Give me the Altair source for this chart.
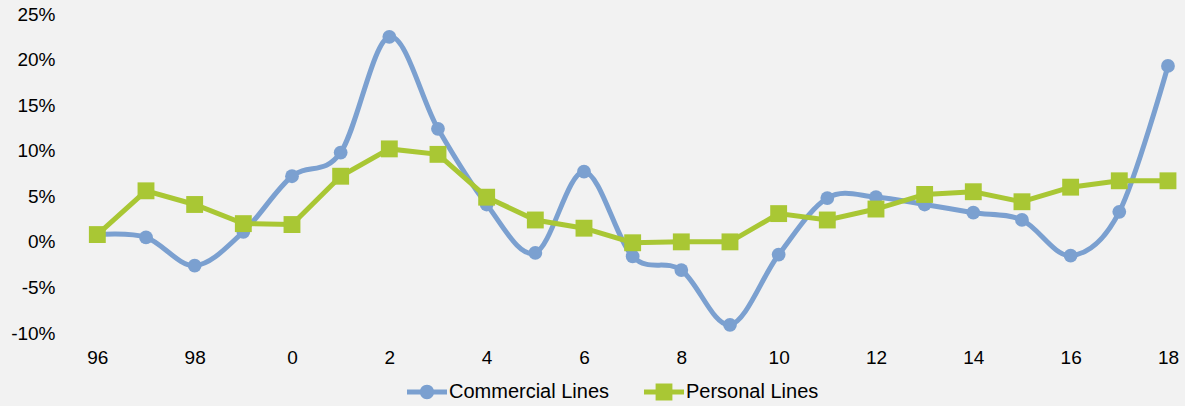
import json
import altair as alt
import pandas as pd

# Year labels (two-digit) and annual growth rates in percent
years = ["96", "97", "98", "99", "0", "1", "2", "3", "4", "5", "6", "7",
         "8", "9", "10", "11", "12", "13", "14", "15", "16", "17", "18"]
commercial = [0.8, 0.5, -2.6, 1.1, 7.2, 9.8, 22.5, 12.4, 4.1, -1.2, 7.7, -1.6,
              -3.1, -9.1, -1.4, 4.8, 4.9, 4.1, 3.2, 2.4, -1.5, 3.3, 19.3]
personal = [0.8, 5.6, 4.1, 2.0, 1.9, 7.2, 10.2, 9.6, 4.9, 2.4, 1.5, -0.1,
            0.0, 0.0, 3.1, 2.4, 3.6, 5.2, 5.5, 4.4, 6.0, 6.7, 6.7]
series_names = ["Commercial Lines", "Personal Lines"]
y_ticks = [-10, -5, 0, 5, 10, 15, 20, 25]

BLUE = "#7ba0d0"
GREEN = "#a9c734"
FONT = "Liberation Sans"

rows = []
for name, vals in zip(series_names, [commercial, personal]):
    for i, (yr, v) in enumerate(zip(years, vals)):
        rows.append({"idx": i, "year": yr, "series": name, "value": v})
df = pd.DataFrame(rows)

x_enc = alt.X(
    "idx:Q",
    scale=alt.Scale(domain=[-0.5, len(years) - 1 + 0.35], nice=False, zero=False),
    axis=alt.Axis(
        title=None, values=list(range(0, len(years), 2)),
        labelExpr=json.dumps(years) + "[datum.value]",
        domain=False, ticks=False, grid=False, labelPadding=15,
        labelFont=FONT, labelFontSize=19, labelColor="#000",
    ),
)
y_enc = alt.Y(
    "value:Q",
    scale=alt.Scale(domain=[-10, 25], nice=False),
    axis=alt.Axis(
        title=None, values=y_ticks, labelExpr="datum.value + '%'",
        domain=False, ticks=False, grid=False, labelPadding=18,
        labelFont=FONT, labelFontSize=19, labelColor="#000",
    ),
)

# Legend symbols: a short bar with the series marker on it (all sub-paths clockwise)
circle_sym = "M-1,-0.12H1V0.12H-1Z M-0.36,0A0.36,0.36 0 1,1 0.36,0A0.36,0.36 0 1,1 -0.36,0Z"
square_sym = "M-1,-0.12H1V0.12H-1Z M-0.42,-0.42H0.42V0.42H-0.42Z"

base = alt.Chart(df).encode(x=x_enc, y=y_enc)
comm = base.transform_filter(alt.datum.series == "Commercial Lines")
pers = base.transform_filter(alt.datum.series == "Personal Lines")

comm_line = comm.mark_line(interpolate="cardinal", strokeWidth=5, color=BLUE)
comm_pts = comm.mark_point(shape="circle", filled=True, size=190, opacity=1, color=BLUE)
pers_line = pers.mark_line(strokeWidth=5, color=GREEN)
pers_pts = pers.mark_point(shape="square", filled=True, size=285, opacity=1, color=GREEN)

# Layer that carries only the legend (no rows pass the filter)
legend_layer = base.transform_filter("false").mark_point(filled=True, opacity=1).encode(
    color=alt.Color(
        "series:N",
        scale=alt.Scale(domain=series_names, range=[BLUE, GREEN]),
        legend=alt.Legend(
            title=None, orient="none", direction="horizontal",
            legendX=334, legendY=358,
            symbolSize=1600, labelOffset=2, columnPadding=34, labelLimit=400,
            labelFont=FONT, labelFontSize=20, labelColor="#000",
            symbolStrokeWidth=0, symbolOpacity=1,
        ),
    ),
    shape=alt.Shape(
        "series:N",
        scale=alt.Scale(domain=series_names, range=[circle_sym, square_sym]),
    ),
)

chart = (
    alt.layer(comm_line, comm_pts, pers_line, pers_pts, legend_layer)
    .properties(
        width=1112, height=319,
        background="#f2f2f2",
        autosize=alt.AutoSizeParams(type="none"),
        padding={"left": 73, "top": 14, "right": 0, "bottom": 73},
    )
    .configure_view(stroke=None)
)

chart.save("out.html", embed_options={"renderer": "svg", "actions": False})
